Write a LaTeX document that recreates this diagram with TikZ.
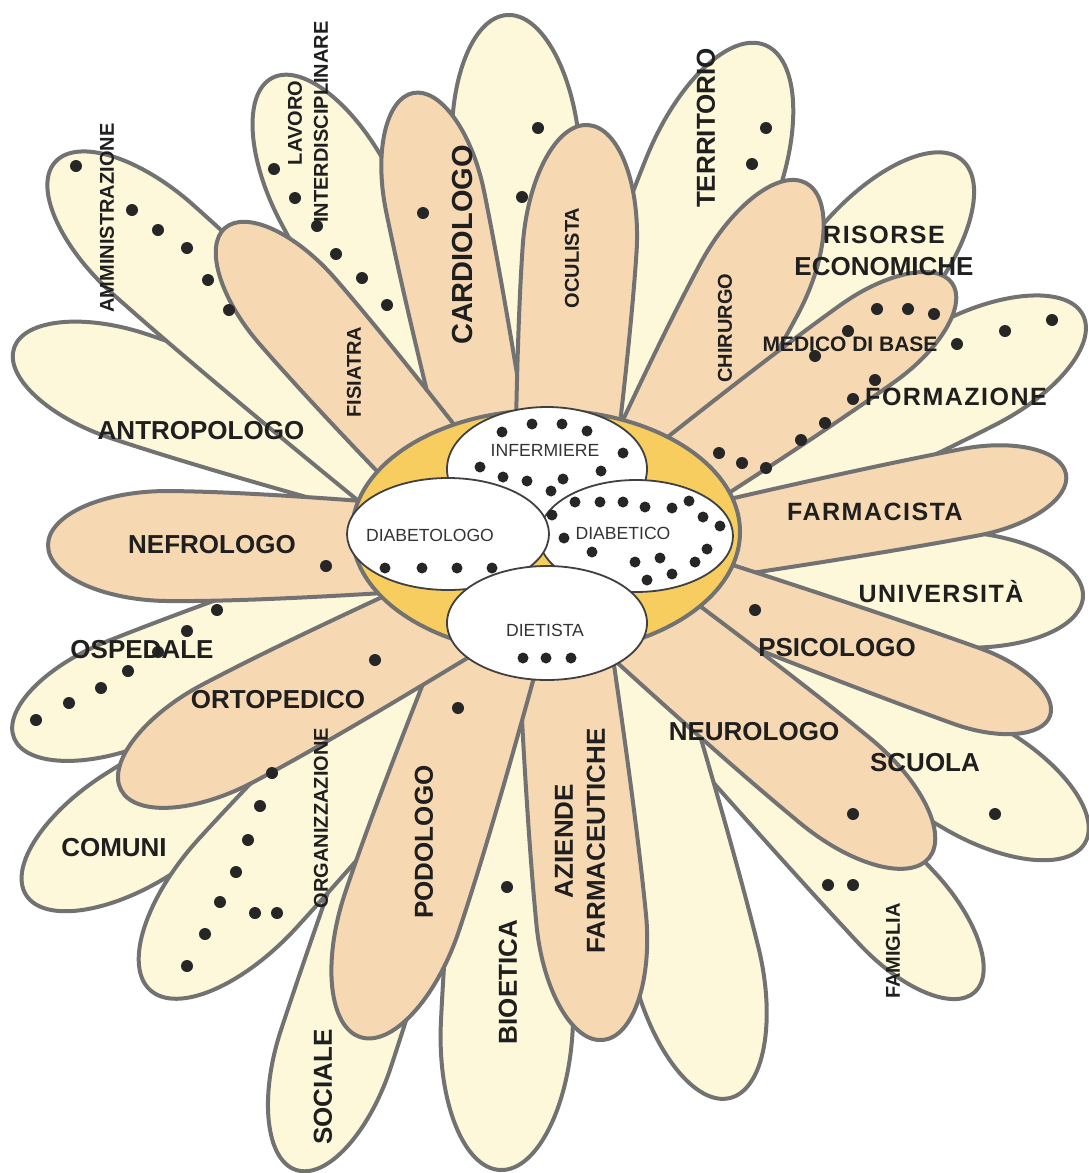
\documentclass[tikz,border=0pt]{standalone}
\usepackage{fontspec}
\setmainfont{Liberation Sans}
\newfontfamily\spacedsans[LetterSpace=6]{Liberation Sans}
\usepackage{tikz}
\usepackage{xcolor}
\definecolor{petalcream}{HTML}{FDF8DA}
\definecolor{petalpeach}{HTML}{F6D8B3}
\definecolor{heartgold}{HTML}{F7CD60}
\definecolor{rimgray}{HTML}{727272}
\newcommand\petal[6]{%
  \pgfmathsetmacro\pang{atan2(#5-#3,#2-#4)}%
  \pgfmathsetmacro\plen{veclen(#2-#4,#3-#5)}%
  \pgfmathsetmacro\pk{\plen-2.2*#6}%
  \pgfmathsetmacro\pc{\plen-0.99*#6}%
  \begin{scope}[shift={(#4,#5)},rotate=\pang]
    \filldraw[petal,fill=#1] (0,{-0.8*#6}) .. controls ({0.5*\pk},{-0.95*#6}) and ({0.8*\pk},-#6) .. (\pk,-#6)
      .. controls (\pc,-#6) and (\plen,{-0.55*#6}) .. (\plen,0)
      .. controls (\plen,{0.55*#6}) and (\pc,#6) .. (\pk,#6)
      .. controls ({0.8*\pk},#6) and ({0.5*\pk},{0.95*#6}) .. (0,{0.8*#6}) -- cycle;
  \end{scope}}

\begin{document}
\begin{tikzpicture}[x=0.5pt,y=-0.5pt,
  petal/.style={draw=rimgray,line width=2pt,line join=round},
  lbl/.style={font=\bfseries\fontsize{13}{13}\selectfont,text=black!88,inner sep=0pt},
  lblwide/.style={font=\spacedsans\bfseries\fontsize{12.5}{13}\selectfont,text=black!88,inner sep=0pt},
  lblsm/.style={font=\bfseries\fontsize{10}{10}\selectfont,text=black!88,inner sep=0pt},
  core/.style={draw=black!75,line width=0.9pt,fill=white},
  corelbl/.style={font=\fontsize{8.8}{9}\selectfont,text=black!80,inner sep=0pt},
  dot/.style={fill=black!85}]
  \useasboundingbox (0,0) rectangle (1088,1173);
  \fill[white] (0,0) rectangle (1088,1173);
  \petal{petalcream}{14}{348}{420}{483}{55}
  \petal{petalcream}{55}{162}{437}{503}{60}
  \petal{petalcream}{272}{78}{480}{470}{60}
  \petal{petalcream}{507}{15}{540}{520}{64}
  \petal{petalcream}{765}{45}{590}{480}{68}
  \petal{petalcream}{962}{160}{664}{510}{64}
  \petal{petalcream}{1083}{315}{667}{527}{58}
  \petal{petalcream}{1083}{597}{650}{571}{58}
  \petal{petalcream}{1085}{843}{613}{570}{58}
  \petal{petalcream}{975}{992}{584}{572}{52}
  \petal{petalcream}{730}{1098}{606}{600}{64}
  \petal{petalcream}{500}{1170}{525}{640}{66}
  \petal{petalcream}{296}{1170}{489}{583}{58}
  \petal{petalcream}{26}{895}{498}{597}{60}
  \petal{petalcream}{150}{990}{524}{581}{66}
  \petal{petalcream}{14}{738}{420}{575}{55}
  \petal{petalpeach}{413}{93}{500}{520}{50}
  \petal{petalpeach}{588}{125}{560}{540}{57}
  \petal{petalpeach}{806}{183}{625}{520}{55}
  \petal{petalpeach}{952}{283}{650}{499}{47}
  \petal{petalpeach}{1066}{474}{661}{551}{44}
  \petal{petalpeach}{1050}{716}{644}{570}{40}
  \petal{petalpeach}{929}{858}{594}{582}{55}
  \petal{petalpeach}{603}{1040}{560}{600}{55}
  \petal{petalpeach}{360}{1037}{500}{620}{60}
  \petal{petalpeach}{121}{790}{470}{605}{55}
  \petal{petalpeach}{48}{545}{400}{548}{55}
  \petal{petalpeach}{225}{228}{470}{510}{50}
  \filldraw[fill=heartgold,draw=rimgray,line width=2pt] (546,532) ellipse [x radius=194,y radius=122];
  \filldraw[core] (547,469) ellipse [x radius=100,y radius=62];
  \filldraw[core] (636,536) ellipse [x radius=97,y radius=56];
  \filldraw[core] (448,534) ellipse [x radius=101,y radius=56];
  \filldraw[core] (547,623) ellipse [x radius=100,y radius=57];
  \node[corelbl] (infermiere) at (545,450) {INFERMIERE};
  \node[corelbl] (diabetologo) at (430,535) {DIABETOLOGO};
  \node[corelbl] (diabetico) at (623,533) {DIABETICO};
  \node[corelbl] (dietista) at (545,630) {DIETISTA};
  \foreach \p in {(502,432),(532,424),(562,424),(587,431),(623,453),(480,467),(503,477),(527,481),(563,479),(601,471),(551,491),
    (552,515),(564,538),(575,502),(600,502),(623,502),(645,507),(672,508),(689,501),(703,517),(720,526),(707,549),(695,562),(672,574),(660,558),(635,562),(647,580),(592,552),
    (385,568),(422,568),(457,568),(492,568),(523,658),(546,658),(571,658)}
    \fill[dot] \p circle (5.5);
  \foreach \p in {(538,128),(522,197),(423,213),(274,169),(295,198),(317,226),(336,254),(362,278),(387,305),
    (76,166),(132,210),(158,230),(187,248),(208,280),(229,310),(766,128),(752,164),
    (877,309),(908,309),(934,314),(848,331),(815,356),(875,380),(853,399),(825,423),(801,440),(719,453),(742,463),(766,468),
    (1052,320),(1005,331),(957,344),(326,566),(217,610),(187,631),(158,652),(128,671),(101,688),(69,703),(36,720),
    (375,660),(272,773),(260,806),(248,840),(236,872),(220,902),(255,913),(277,913),(205,934),(187,966),
    (458,708),(507,887),(755,610),(853,814),(995,814),(828,885),(853,885)}
    \fill[dot] \p circle (6);
  \node[lbl] (antropologo) at (201,431) {ANTROPOLOGO};
  \node[lbl] (nefrologo) at (212,545) {NEFROLOGO};
  \node[lbl] (ospedale) at (142,650) {OSPEDALE};
  \node[lbl] (ortopedico) at (278,700) {ORTOPEDICO};
  \node[lbl] (comuni) at (114,848) {COMUNI};
  \node[lblwide] (farmacista) at (875,512) {FARMACISTA};
  \node[lblwide] (universita) at (941,592) {UNIVERSITÀ};
  \node[lbl] (psicologo) at (837,648) {PSICOLOGO};
  \node[lbl] (neurologo) at (754,732) {NEUROLOGO};
  \node[lbl] (scuola) at (925,763) {SCUOLA};
  \node[lblwide] (formazione) at (956,397) {FORMAZIONE};
  \node[lblwide] (risorse) at (884,235) {RISORSE};
  \node[lbl] (economiche) at (884,267) {ECONOMICHE};
  \node[lblsm,font=\bfseries\fontsize{10.5}{11}\selectfont] (medico) at (850,344) {MEDICO DI BASE};
  \node[lbl,rotate=90,font=\bfseries\fontsize{14.5}{15}\selectfont] (cardiologo) at (463,245) {CARDIOLOGO};
  \node[lbl,rotate=90] (territorio) at (706,128) {TERRITORIO};
  \node[lbl,rotate=90] (podologo) at (424,842) {PODOLOGO};
  \node[lbl,rotate=90] (sociale) at (323,1087) {SOCIALE};
  \node[lbl,rotate=90] (bioetica) at (508,982) {BIOETICA};
  \node[lbl,rotate=90] (aziende) at (564,841) {AZIENDE};
  \node[lbl,rotate=90] (farmaceutiche) at (596,841) {FARMACEUTICHE};
  \node[lblsm,rotate=90] (amministrazione) at (107,218) {AMMINISTRAZIONE};
  \node[lblsm,rotate=90] (lavoro) at (295,123) {LAVORO};
  \node[lblsm,rotate=90] (interdisciplinare) at (321,122) {INTERDISCIPLINARE};
  \node[lblsm,rotate=90] (fisiatra) at (354,372) {FISIATRA};
  \node[lblsm,rotate=90] (oculista) at (572,258) {OCULISTA};
  \node[lblsm,rotate=90] (chirurgo) at (725,328) {CHIRURGO};
  \node[lblsm,rotate=90] (organizzazione) at (321,818) {ORGANIZZAZIONE};
  \node[lblsm,rotate=90] (famiglia) at (893,951) {FAMIGLIA};
\end{tikzpicture}
\end{document}
